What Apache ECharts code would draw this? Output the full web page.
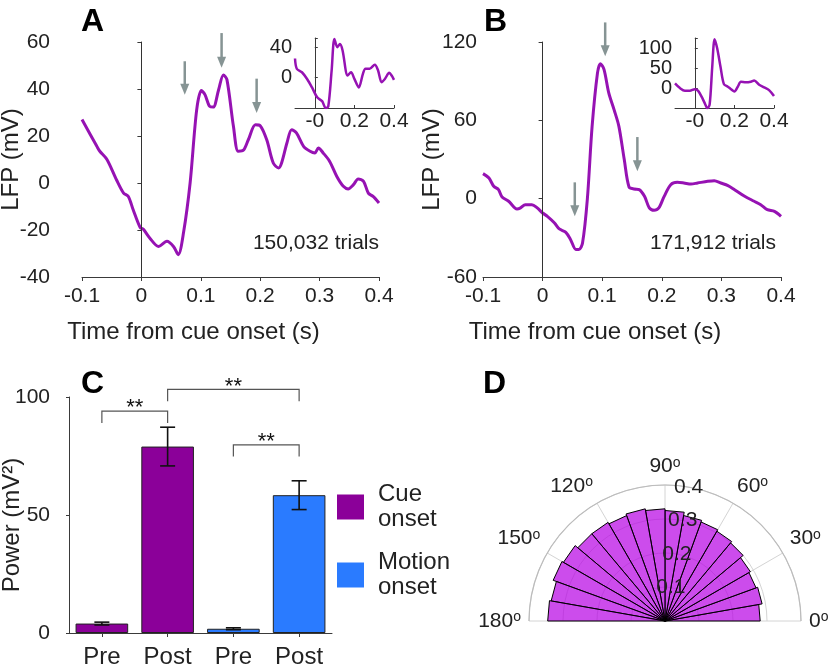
<!DOCTYPE html>
<html>
<head>
<meta charset="utf-8">
<script src="https://cdn.jsdelivr.net/npm/echarts@6/dist/echarts.min.js"></script>
<style>html,body{margin:0;padding:0;background:#fff}#c{width:828px;height:669px}</style>
</head>
<body>
<div id="c"></div>
<script>
// ---------- Panel A data ----------
const tA = [-0.1,-0.075,-0.07,-0.058,-0.042,-0.03,-0.022,-0.014,-0.002,0.003,0.014,0.029,0.043,0.054,0.062,0.071,0.082,0.093,0.101,0.107,0.115,0.121,0.13,0.138,0.144,0.155,0.163,0.172,0.18,0.192,0.2,0.211,0.222,0.231,0.236,0.245,0.253,0.261,0.273,0.284,0.292,0.298,0.306,0.317,0.329,0.34,0.348,0.357,0.365,0.374,0.382,0.39,0.4];
const lfpA = [27,15.6,13.5,10,1.4,-4.3,-5.7,-11.3,-19,-19.6,-23.4,-27,-24.8,-27,-30.5,-21,0,31,39.4,37.6,32.6,32.3,39.7,46,44,24,13.5,14,18.4,24.8,24.4,18.4,8.5,6.4,8.5,17,22.7,21.3,15.6,13.5,12.8,14.9,12.8,9.2,2.8,-1.4,-2.5,-0.7,1.7,0.7,-4.3,-5.7,-8.5];
const tAi = [-0.1,-0.091,-0.065,-0.039,-0.014,0.012,0.037,0.055,0.068,0.085,0.099,0.114,0.127,0.14,0.166,0.183,0.2,0.222,0.243,0.256,0.277,0.303,0.32,0.337,0.354,0.376,0.388,0.4];
const lfpAi = [25,11.6,7,-1.8,-13,-26,-31,-40,-38,9,50.7,40,44,36,2.7,7,-1.8,-13,4.9,11.6,11.6,17,9,-6,-1.8,6.2,2.7,-3];
const arrowAX = [0.073, 0.135, 0.194];
const arrowATop = [51.8, 63.8, 44.4];
const arrowABottom = [37.6, 49, 29.8];
const trialsA = '150,032 trials';

// ---------- Panel B data ----------
const tB = [-0.1,-0.09,-0.082,-0.074,-0.068,-0.057,-0.043,-0.037,-0.029,-0.018,-0.009,0,0.008,0.02,0.028,0.039,0.047,0.056,0.061,0.067,0.075,0.083,0.092,0.097,0.103,0.111,0.12,0.128,0.137,0.145,0.154,0.162,0.171,0.179,0.187,0.195,0.204,0.215,0.226,0.237,0.249,0.26,0.277,0.288,0.299,0.311,0.322,0.339,0.355,0.366,0.377,0.389,0.4];
const lfpB = [19.2,15.8,9.5,6.9,1.3,-2,-7.9,-7.1,-4.6,-4.6,-7.1,-11,-13.5,-18.6,-23.2,-25.8,-31.4,-39,-39,-34,-0.8,55,96,103.4,99,81,68,55.4,30,9,7.4,6.9,1.8,-7,-8.9,-7.1,1.8,10.7,12.5,12,11.2,12,13.3,13.8,12,10,6.9,1.8,-2,-4.6,-8.4,-9.7,-13.5];
const tBi = [-0.1,-0.075,-0.05,-0.025,0,0.017,0.037,0.053,0.063,0.075,0.088,0.1,0.113,0.13,0.147,0.167,0.183,0.2,0.217,0.233,0.258,0.283,0.3,0.325,0.35,0.375,0.4];
const lfpBi = [12,0,-6.8,-6.8,-2.6,-6.8,-24,-41,-51,-41,53,123,100,53,10,3.4,-2.6,-8.5,3.4,16,14.5,16,19,8.5,1.7,-5,-20];
const arrowBX = [0.054, 0.105, 0.159];
const arrowBTop = [12.5, 135, 47.2];
const arrowBBottom = [-13.5, 109, 21];
const trialsB = '171,912 trials';

// tick labels
const insetXTickVals = [0, 0.2, 0.4];
const insetXTickLabels = ['-0', '0.2', '0.4'];
const insetAYTicks = [0, 40];
const insetBYTicks = [0, 50, 100];

// ---------- Panel C data ----------
const cCats = ['Pre', 'Post', 'Pre', 'Post'];
const cueVals = [4.0, 79.0, null, null];
const motionVals = [null, null, 1.8, 58.4];
const cErr = [0.6, 8.2, 0.4, 6.1];
const cMeans = [4.0, 79.0, 1.8, 58.4];
const bracketFrom = [0, 1, 2];
const bracketTo = [1, 3, 3];
const bracketTop = [94, 103.2, 79.7];
const bracketLeg = [89, 98.2, 74.8];
const bracketText = ['**', '**', '**'];

// ---------- Panel D data ----------
const dBinStart = [0,10,20,30,40,50,60,70,80,90,100,110,120,130,140,150,160,170];
const dVals = [0.28,0.29,0.285,0.29,0.30,0.305,0.31,0.315,0.325,0.33,0.335,0.33,0.335,0.335,0.345,0.35,0.34,0.345];
const rTicks = [0.1, 0.2, 0.3, 0.4];

const FONT = 'Liberation Sans, Arial, Helvetica, sans-serif';
const LINE = '#9612b3';
const TXT = '#222';
const AX = '#3a3a3a';
const zip = (a, b) => a.map((v, i) => [v, b[i]]);

function mainX(grid, padRight) {
  return {
    gridIndex: grid, type: 'value', min: -0.1, max: 0.4, interval: 0.1,
    axisLine: { show: true, onZero: false, lineStyle: { color: AX, width: 1 } },
    axisTick: { show: true, length: 4, lineStyle: { color: AX } },
    axisLabel: { fontSize: 21, color: TXT, margin: 9, fontFamily: FONT },
    splitLine: { show: false },
    name: 'Time from cue onset (s)', nameLocation: 'middle', nameGap: 43, nameMoveOverlap: false,
    nameTextStyle: { fontSize: 24, color: TXT, fontFamily: FONT, padding: [0, padRight, 0, 0] }
  };
}
function mainY(grid, min, max, interval, margin, nameGap) {
  return {
    gridIndex: grid, type: 'value', min: min, max: max, interval: interval,
    axisLine: { show: true, lineStyle: { color: AX, width: 1 } },
    axisTick: { show: true, length: 4, lineStyle: { color: AX } },
    axisLabel: { fontSize: 21, color: TXT, margin: margin, fontFamily: FONT },
    splitLine: { show: false },
    name: 'LFP (mV)', nameLocation: 'middle', nameGap: nameGap, nameMoveOverlap: false,
    nameTextStyle: { fontSize: 24, color: TXT, fontFamily: FONT }
  };
}
function insetX(grid) {
  return {
    gridIndex: grid, type: 'value', min: -0.1, max: 0.4,
    axisLine: { show: true, onZero: false, lineStyle: { color: AX, width: 1 } },
    axisTick: { show: true, inside: true, length: 3, customValues: insetXTickVals, lineStyle: { color: AX } },
    axisLabel: { fontSize: 21, color: TXT, margin: 3, fontFamily: FONT, customValues: insetXTickVals, hideOverlap: false,
      formatter: v => { const i = insetXTickVals.findIndex(t => Math.abs(t - v) < 1e-6); return i >= 0 ? insetXTickLabels[i] : ''; } },
    splitLine: { show: false }
  };
}
function insetY(grid, min, max, ticks, interval) {
  return {
    gridIndex: grid, type: 'value', min: min, max: max, interval: interval,
    axisLine: { show: true, lineStyle: { color: AX, width: 1 } },
    axisTick: { show: true, inside: true, length: 3, lineStyle: { color: AX } },
    axisLabel: { fontSize: 20, color: TXT, margin: 3, fontFamily: FONT, hideOverlap: false,
      formatter: v => ticks.some(t => Math.abs(t - v) < 1e-6) ? String(v) : '' },
    splitLine: { show: false }
  };
}

function arrowSeries(xi, yi, xs, tops, bots) {
  return {
    type: 'custom', xAxisIndex: xi, yAxisIndex: yi, silent: true, z: 5,
    data: xs.map((x, i) => [x, tops[i], bots[i]]),
    renderItem: (params, api) => {
      const top = api.coord([api.value(0), api.value(1)]);
      const bot = api.coord([api.value(0), api.value(2)]);
      const hl = 11, hw = 4.5;
      return { type: 'group', children: [
        { type: 'line', shape: { x1: top[0], y1: top[1], x2: bot[0], y2: bot[1] - hl + 1 },
          style: { stroke: '#869494', lineWidth: 2.5 } },
        { type: 'polygon', shape: { points: [[bot[0] - hw, bot[1] - hl], [bot[0] + hw, bot[1] - hl], [bot[0], bot[1]]] },
          style: { fill: '#869494' } }
      ]};
    }
  };
}

const chart = echarts.init(document.getElementById('c'), null, { renderer: 'canvas' });

const G = { outerBoundsMode: 'none', containLabel: false };
const option = {
  backgroundColor: '#fff',
  animation: false,
  textStyle: { fontFamily: FONT },
  grid: [
    Object.assign({ left: 82, top: 42, width: 297, height: 235 }, G),
    Object.assign({ left: 295, top: 38, width: 99, height: 70 }, G),
    Object.assign({ left: 483, top: 42, width: 298, height: 235 }, G),
    Object.assign({ left: 675, top: 38, width: 99, height: 70 }, G),
    Object.assign({ left: 69, top: 397, width: 263, height: 236 }, G)
  ],
  xAxis: [
    mainX(0, 74), insetX(1), mainX(2, 74), insetX(3),
    { gridIndex: 4, type: 'category', data: cCats,
      axisLine: { show: true, lineStyle: { color: AX, width: 1 } },
      axisTick: { show: true, alignWithLabel: true, length: 4, lineStyle: { color: AX } },
      axisLabel: { fontSize: 24, color: TXT, margin: 12, fontFamily: FONT, interval: 0 } }
  ],
  yAxis: [
    mainY(0, -40, 60, 20, 32, 59), insetY(1, -40, 52, insetAYTicks, 40),
    mainY(2, -60, 120, 60, 6, 39), insetY(3, -50, 126, insetBYTicks, 50),
    { gridIndex: 4, type: 'value', min: 0, max: 100, interval: 50,
      axisLine: { show: true, lineStyle: { color: AX, width: 1 } },
      axisTick: { show: true, length: 3, lineStyle: { color: AX } },
      axisLabel: { fontSize: 21, color: TXT, margin: 19, fontFamily: FONT },
      splitLine: { show: false },
      name: 'Power (mV²)', nameLocation: 'middle', nameGap: 45, nameMoveOverlap: false,
      nameTextStyle: { fontSize: 24, color: TXT, fontFamily: FONT, padding: [0, 20, 0, 0] } }
  ],
  polar: [
    { center: [665, 621], radius: 136 },
    { center: [665, 621], radius: 136 }
  ],
  angleAxis: [
    { polarIndex: 0, type: 'value', min: 0, max: 180, interval: 30, startAngle: 0, endAngle: 180, clockwise: false,
      axisLine: { show: true, lineStyle: { color: '#bcbcbc', width: 1.2 } },
      axisTick: { show: false },
      splitLine: { show: true, lineStyle: { color: '#d4d4d4', width: 1 } },
      axisLabel: { show: true, margin: 8, fontSize: 21, color: TXT, fontFamily: FONT,
        formatter: v => v + '{s|o}',
        rich: { s: { fontSize: 14, verticalAlign: 'top', color: TXT, fontFamily: FONT } } } },
    { polarIndex: 1, type: 'value', min: 0, max: 360, startAngle: 80, show: false }
  ],
  radiusAxis: [
    { polarIndex: 0, type: 'value', min: 0, max: 0.4, interval: 0.1,
      axisLine: { show: false }, axisTick: { show: false }, axisLabel: { show: false },
      splitLine: { show: true, lineStyle: { color: '#d4d4d4', width: 1 } } },
    { polarIndex: 1, type: 'value', min: 0, max: 0.4, interval: 0.1, z: 10,
      axisLine: { show: false }, axisTick: { show: false }, splitLine: { show: false },
      axisLabel: { show: true, margin: 0, fontSize: 21, color: TXT, fontFamily: FONT, align: 'center', verticalAlign: 'middle',
        customValues: rTicks } }
  ],
  legend: {
    data: ['Cue onset', 'Motion onset'], orient: 'vertical', left: 337, top: 482, padding: 0,
    itemWidth: 27, itemHeight: 25, itemGap: 18, icon: 'rect',
    formatter: n => n.replace(' ', '\n'),
    itemStyle: { borderWidth: 0 },
    textStyle: { fontSize: 24, lineHeight: 25, color: TXT, fontFamily: FONT, padding: [0, 0, 0, 9] }
  },
  graphic: [
    { type: 'text', left: 81, top: 6, style: { text: 'A', font: 'bold 32px ' + FONT, fill: '#000' } },
    { type: 'text', left: 484, top: 6, style: { text: 'B', font: 'bold 32px ' + FONT, fill: '#000' } },
    { type: 'text', left: 81, top: 368, style: { text: 'C', font: 'bold 32px ' + FONT, fill: '#000' } },
    { type: 'text', left: 483, top: 368, style: { text: 'D', font: 'bold 32px ' + FONT, fill: '#000' } },
    { type: 'text', right: 828 - 379, top: 233, style: { text: trialsA, font: '21px ' + FONT, fill: TXT } },
    { type: 'text', right: 828 - 776, top: 233, style: { text: trialsB, font: '21px ' + FONT, fill: TXT } }
  ],
  series: [
    { type: 'line', xAxisIndex: 0, yAxisIndex: 0, data: zip(tA, lfpA), showSymbol: false, smooth: 0.3,
      lineStyle: { color: LINE, width: 3 }, itemStyle: { color: LINE },
      markLine: { silent: true, symbol: 'none', label: { show: false },
        lineStyle: { color: '#333', width: 1, type: 'solid' }, data: [{ xAxis: 0 }] } },
    { type: 'line', xAxisIndex: 1, yAxisIndex: 1, data: zip(tAi, lfpAi), showSymbol: false, smooth: 0.3,
      lineStyle: { color: LINE, width: 2.5 }, itemStyle: { color: LINE } },
    arrowSeries(0, 0, arrowAX, arrowATop, arrowABottom),
    { type: 'line', xAxisIndex: 2, yAxisIndex: 2, data: zip(tB, lfpB), showSymbol: false, smooth: 0.3,
      lineStyle: { color: LINE, width: 3 }, itemStyle: { color: LINE },
      markLine: { silent: true, symbol: 'none', label: { show: false },
        lineStyle: { color: '#333', width: 1, type: 'solid' }, data: [{ xAxis: 0 }] } },
    { type: 'line', xAxisIndex: 3, yAxisIndex: 3, data: zip(tBi, lfpBi), showSymbol: false, smooth: 0.3,
      lineStyle: { color: LINE, width: 2.5 }, itemStyle: { color: LINE } },
    arrowSeries(2, 2, arrowBX, arrowBTop, arrowBBottom),
    { name: 'Cue onset', type: 'bar', xAxisIndex: 4, yAxisIndex: 4, barWidth: '80%', barGap: '-100%',
      data: cueVals.map(v => v == null ? '-' : v),
      itemStyle: { color: '#8b0099', borderColor: '#222', borderWidth: 1 } },
    { name: 'Motion onset', type: 'bar', xAxisIndex: 4, yAxisIndex: 4, barWidth: '80%', barGap: '-100%',
      data: motionVals.map(v => v == null ? '-' : v),
      itemStyle: { color: '#2a7bff', borderColor: '#222', borderWidth: 1 } },
    { type: 'custom', xAxisIndex: 4, yAxisIndex: 4, silent: true, z: 5,
      data: cMeans.map((m, i) => [i, m - cErr[i], m + cErr[i]]),
      renderItem: (params, api) => {
        const lo = api.coord([api.value(0), api.value(1)]);
        const hi = api.coord([api.value(0), api.value(2)]);
        const cw = 7.5;
        const st = { stroke: '#111', lineWidth: 1.6 };
        return { type: 'group', children: [
          { type: 'line', shape: { x1: lo[0], y1: lo[1], x2: hi[0], y2: hi[1] }, style: st },
          { type: 'line', shape: { x1: lo[0] - cw, y1: lo[1], x2: lo[0] + cw, y2: lo[1] }, style: st },
          { type: 'line', shape: { x1: hi[0] - cw, y1: hi[1], x2: hi[0] + cw, y2: hi[1] }, style: st }
        ]};
      } },
    { type: 'custom', xAxisIndex: 4, yAxisIndex: 4, silent: true, z: 5,
      data: bracketFrom.map((f, i) => [f, bracketTo[i], bracketTop[i], bracketLeg[i], i]),
      renderItem: (params, api) => {
        const a0 = api.coord([api.value(0), api.value(3)]);
        const a1 = api.coord([api.value(0), api.value(2)]);
        const b1 = api.coord([api.value(1), api.value(2)]);
        const b0 = api.coord([api.value(1), api.value(3)]);
        const txt = bracketText[api.value(4)];
        return { type: 'group', children: [
          { type: 'polyline', shape: { points: [a0, a1, b1, b0] }, style: { stroke: '#555', lineWidth: 1.2, fill: null } },
          { type: 'text', x: (a1[0] + b1[0]) / 2, y: a1[1] - 3,
            style: { text: txt, font: '22px ' + FONT, fill: '#111', align: 'center', verticalAlign: 'middle' } }
        ]};
      } },
    { type: 'custom', coordinateSystem: 'polar', polarIndex: 0, silent: true, z: 3,
      data: dVals.map((v, i) => [v, dBinStart[i], dBinStart[i] + 10]),
      renderItem: (params, api) => {
        const r = api.value(0), a0 = api.value(1), a1 = api.value(2);
        const c = api.coord([0, a0]);
        const p0 = api.coord([r, a0]);
        const p1 = api.coord([r, a1]);
        return { type: 'polygon', shape: { points: [c, p0, p1] },
          style: { fill: 'rgba(182,0,228,0.7)', stroke: '#000', lineWidth: 1 } };
      } }
  ]
};
chart.setOption(option);
</script>
</body>
</html>
